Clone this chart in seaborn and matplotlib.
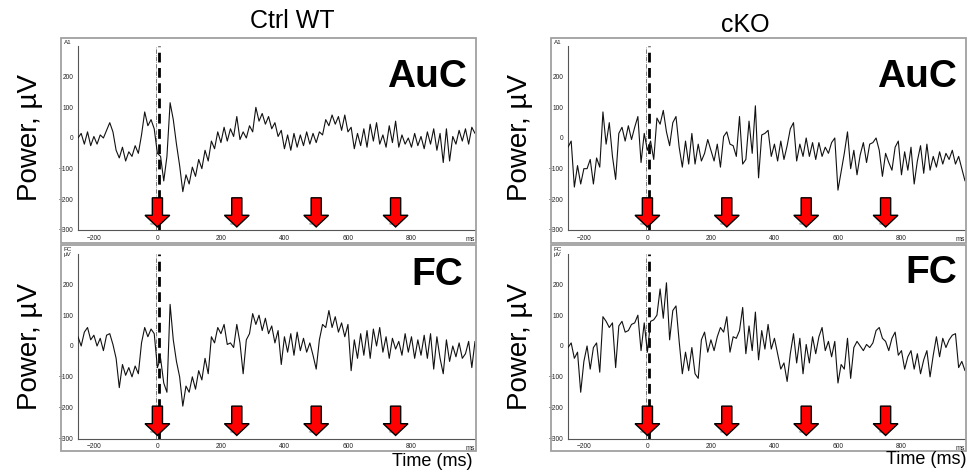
"""Evoked responses to repeated sounds: Ctrl WT vs cKO, auditory (AuC) and frontal (FC) cortex."""

import matplotlib

matplotlib.use("Agg")
import matplotlib.pyplot as plt
import numpy as np
import pandas as pd
import seaborn as sns
from matplotlib.patches import Rectangle
from matplotlib.ticker import MultipleLocator

# 10 ms sampling, -250 .. 1000 ms
time_ms = np.arange(-250, 1001, 10)

wt_auc = [
    0, 15, -20, 20, -25, 5, -20, 10, 0, 25,
    50, 20, -40, -65, -30, -75, -45, -60, -25, -50,
    10, 85, 40, 60, 30, -50, -60, -140, -60, 115,
    60, -20, -90, -175, -120, -150, -95, -125, -70, -100,
    -40, -75, -10, -35, 20, -15, 35, -10, 30, 5,
    70, -5, 20, 0, 40, 20, 100, 55, 80, 45,
    70, 30, 50, 5, 25, -35, 10, -40, 15, -30,
    10, -25, 20, -20, 15, -15, 20, 10, 60, 40,
    75, 45, 70, 25, 75, 20, 35, -35, 15, -25,
    30, -30, 45, -10, 50, -20, 10, -30, 40, -15,
    55, -30, 10, -20, 0, -30, 15, -25, 5, -35,
    20, -20, 30, -40, 15, -80, 30, -75, 5, -20,
    25, -10, 30, -20, 35, 15,
]
wt_fc = [
    30, 0, 45, 60, 20, 35, 0, 25, -15, 35,
    40, 5, -40, -135, -60, -95, -70, -100, -65, -90,
    10, 60, 30, 55, 40, -70, -40, -120, -150, 135,
    20, -50, -100, -195, -130, -150, -100, -140, -80, -110,
    -40, -90, 30, 10, 60, 40, 70, 5, 10, -5,
    70, 10, -90, 20, 40, 105, 70, 100, 50, 90,
    40, 65, 10, 50, -60, 30, -20, 40, -30, 45,
    -15, 25, -20, 10, -30, -75, 20, 70, 60, 115,
    60, 95, 45, 75, 30, 70, -80, 20, -40, 40,
    -30, 50, -40, 55, 0, 60, -20, 30, -40, 25,
    -10, 15, -30, 40, -20, 30, -40, 20, -30, 35,
    -40, 40, -75, 30, -40, -90, 20, -50, 0, -35,
    10, -40, -25, 15, -70, 15,
]
ko_auc = [
    -30, -10, -160, -90, -150, -100, -100, -70, -150, -65,
    -95, 85, -20, 50, -60, -135, 15, 35, -10, 40,
    -5, 35, 70, -80, 15, -40, -10, -70, 65, 45,
    90, 20, -25, 50, 70, -30, -95, -10, -85, 15,
    -85, -20, -75, -50, -5, -40, -75, -20, -95, 5,
    20, -20, -25, -60, 70, -85, -70, 55, -50, 105,
    -130, 10, 15, 25, -60, -20, -75, -10, -70, -25,
    30, 50, -75, -20, -60, 0, -60, -15, -70, -15,
    -60, -30, -50, -15, 0, -170, -110, -50, 20, -100,
    -40, -120, -55, -15, -80, -20, -15, 0, -40, -125,
    -50, -80, -105, -30, -10, -120, -45, -105, -30, -150,
    -75, -25, -115, -20, -105, -60, -95, -45, -85, -50,
    -70, -40, -85, -60, -100, -140,
]
ko_fc = [
    -5, 10, -40, -20, -150, -50, 0, -75, -5, 10,
    -85, 95, 80, 60, 75, -70, 65, 80, 45, 50,
    70, 75, 100, -15, 75, -20, 80, 85, 100, 185,
    90, 205, 20, 115, 130, 15, -90, -20, -80, -5,
    -90, -105, 20, 45, -20, 20, -15, 30, 60, 45,
    95, -20, 30, 25, 50, 125, -25, 65, -15, 110,
    -45, 50, -10, 70, -10, 25, -25, -75, -55, -115,
    -25, 40, -55, 25, -90, 5, -55, 30, -25, 30,
    60, -15, 15, -35, 15, -120, -60, -75, 25, -105,
    -5, 15, 0, -15, 5, -5, 10, 50, 60, 25,
    15, -15, 25, 45, -30, -15, -75, -35, -15, -75,
    -25, -90, -45, -15, -100, -30, 30, -35, 25, -5,
    20, 35, 40, -70, -50, -80,
]

groups = ["Ctrl WT", "cKO"]
regions = ["AuC", "FC"]
corner_labels = {"AuC": "A1", "FC": "FC\nµV"}
stim_ms = [0, 250, 500, 750]
xticks = [-200, 0, 200, 400, 600, 800]
yticks = [-300, -200, -100, 0, 100, 200]

traces = {
    ("Ctrl WT", "AuC"): wt_auc,
    ("Ctrl WT", "FC"): wt_fc,
    ("cKO", "AuC"): ko_auc,
    ("cKO", "FC"): ko_fc,
}
frame = pd.concat(
    [
        pd.DataFrame({"time_ms": time_ms, "power_uv": vals, "group": g, "region": r})
        for (g, r), vals in traces.items()
    ],
    ignore_index=True,
)

W, H = 969, 471


def px_rect(x0, y0, x1, y1):
    return [x0 / W, 1 - y1 / H, (x1 - x0) / W, (y1 - y0) / H]


sns.set_style("white")
plt.rcParams["font.family"] = ["Liberation Sans", "DejaVu Sans"]
plt.rcParams["text.color"] = "black"

fig = plt.figure(figsize=(W / 100, H / 100), dpi=100)

col_axes = {"Ctrl WT": (78, 475), "cKO": (568, 965)}
col_frames = {"Ctrl WT": (61, 476), "cKO": (551, 966)}
row_axes = {"AuC": (46, 230), "FC": (253.5, 438.5)}
row_frames = {"AuC": (38, 243), "FC": (245, 451)}
label_pos = {
    ("Ctrl WT", "AuC"): (0.98, 0.83),
    ("Ctrl WT", "FC"): (0.97, 0.885),
    ("cKO", "AuC"): (0.98, 0.83),
    ("cKO", "FC"): (0.98, 0.895),
}

for g in groups:
    for r in regions:
        fx0, fx1 = col_frames[g]
        fy0, fy1 = row_frames[r]
        fig.patches.append(
            Rectangle(
                (fx0 / W, 1 - fy1 / H), (fx1 - fx0) / W, (fy1 - fy0) / H,
                transform=fig.transFigure, fill=False, ec="#a0a0a0", lw=1.3,
            )
        )
        fig.text(fx0 / W + 0.003, 1 - (fy0 + 2) / H, corner_labels[r],
                 fontsize=4.5, color="#222222", ha="left", va="top", linespacing=1.1)

        ax0, ax1 = col_axes[g]
        ay0, ay1 = row_axes[r]
        ax = fig.add_axes(px_rect(ax0, ay0, ax1, ay1))
        ax.patch.set_alpha(0)
        sub = frame[(frame["group"] == g) & (frame["region"] == r)]
        sns.lineplot(data=sub, x="time_ms", y="power_uv", ax=ax, color="#111111",
                     linewidth=0.8, estimator=None, errorbar=None, zorder=3)

        ax.axvline(stim_ms[0] + 4, color="black", lw=2, dashes=(3.5, 2), zorder=2)
        ax.axvline(stim_ms[0] - 4, color="#444444", lw=0.5, ls="-.", zorder=2)
        for s in stim_ms:
            ax.text(s - 6, -280, "sound", fontsize=2.8, color="#777777",
                    ha="center", va="center", zorder=4)
            ax.arrow(s, -195, 0, -95, width=32, head_width=78, head_length=38,
                     length_includes_head=True, fc="#ff0000", ec="black", lw=1.0,
                     zorder=5)

        ax.set_xlim(-250, 1000)
        ax.set_ylim(-300, 300)
        ax.set_xticks(xticks)
        ax.set_yticks(yticks)
        ax.xaxis.set_minor_locator(MultipleLocator(100))
        ax.yaxis.set_minor_locator(MultipleLocator(20))
        ax.tick_params(which="major", labelsize=4.8, length=2.5, width=0.6,
                       colors="#555555", labelcolor="#222222", pad=1)
        ax.tick_params(which="minor", length=1.3, width=0.5, colors="#666666")
        ax.tick_params(axis="x", which="both", direction="out")
        for side in ("top", "right"):
            ax.spines[side].set_visible(False)
        for side in ("left", "bottom"):
            ax.spines[side].set_color("#555555")
            ax.spines[side].set_linewidth(0.8)
        ax.set_xlabel("")
        ax.set_ylabel("")
        ax.text(1.0, -0.035, "ms", transform=ax.transAxes, ha="right", va="top",
                fontsize=5, color="#222222")

        lx, ly = label_pos[(g, r)]
        ax.text(lx, ly, r, transform=ax.transAxes, ha="right", va="center",
                fontsize=28, fontweight="bold", color="black", zorder=6)

        fig.text((fx0 - 31) / W, 1 - ((ay0 + ay1) / 2) / H, "Power, µV",
                 rotation=90, ha="center", va="center", fontsize=20, color="black")

fig.text(292 / W, 1 - 21 / H, "Ctrl WT", ha="center", va="center", fontsize=18, color="black")
fig.text(745 / W, 1 - 25 / H, "cKO", ha="center", va="center", fontsize=18, color="black")
fig.text(473 / W, 1 - 461 / H, "Time (ms)", ha="right", va="center", fontsize=13, color="black")
fig.text(967 / W, 1 - 460 / H, "Time (ms)", ha="right", va="center", fontsize=13, color="black")

fig.savefig("out.png", dpi=100)
